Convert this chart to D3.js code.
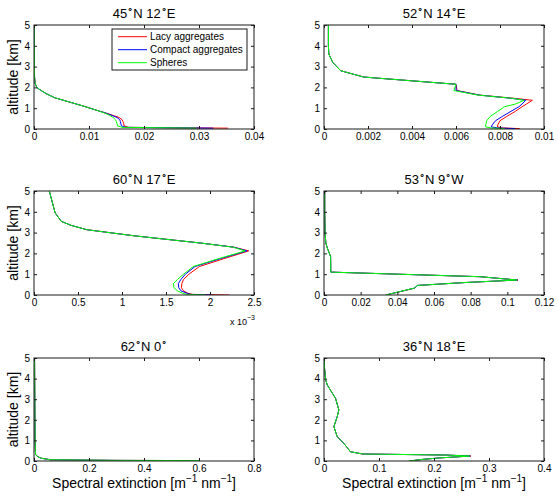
<!DOCTYPE html>
<html><head><meta charset="utf-8">
<script src="https://cdn.jsdelivr.net/npm/d3@7"></script>
<style>body{margin:0;background:#fff} text{font-family:"Liberation Sans",Arial,sans-serif;fill:#000}</style>
</head><body><svg id="c" width="558" height="496"></svg>
<script>
// ---------- DATA ----------
const seriesNames = ["Lacy aggregates", "Compact aggregates", "Spheres"];
const seriesColors = ["#ff0000", "#0000ff", "#00ff00"];
const altTicks = [0, 1, 2, 3, 4, 5];

// Panel 1: 45N 12E
const p1Title = ["45", "N 12", "E"];
const p1Ticks = [0, 0.01, 0.02, 0.03, 0.04];
const p1Alt = [5, 4, 3, 2.5, 2.2, 2.0, 1.9, 1.7, 1.5, 1.3, 1.1, 1.0, 0.9, 0.75, 0.65, 0.55, 0.45, 0.35, 0.25, 0.15, 0.08, 0.04];
const p1Lacy = [0.00003, 0.00005, 0.00008, 0.0001, 0.0002, 0.0005, 0.0010, 0.0022, 0.0038, 0.0064, 0.0090, 0.0102, 0.0114, 0.0133, 0.0144, 0.0155, 0.0160, 0.0162, 0.0163, 0.0164, 0.0172, 0.0353];
const p1Compact = [0.00003, 0.00005, 0.00008, 0.0001, 0.0002, 0.0005, 0.0010, 0.0022, 0.0038, 0.0064, 0.0090, 0.0102, 0.0114, 0.0132, 0.0142, 0.0151, 0.0156, 0.0157, 0.0158, 0.0159, 0.0167, 0.0326];
const p1Spheres = [0.00003, 0.00005, 0.00008, 0.0001, 0.0002, 0.0005, 0.0010, 0.0022, 0.0038, 0.0064, 0.0090, 0.0102, 0.0114, 0.0130, 0.0138, 0.0144, 0.0148, 0.0150, 0.0151, 0.0152, 0.0160, 0.0296];

// Panel 2: 52N 14E
const p2Title = ["52", "N 14", "E"];
const p2Ticks = [0, 0.002, 0.004, 0.006, 0.008, 0.01];
const p2Alt = [5, 4, 3.6, 3.2, 2.8, 2.5, 2.44, 2.15, 1.85, 1.63, 1.47, 1.38, 1.2, 1.07, 0.85, 0.6, 0.4, 0.2, 0.1, 0.05, 0.02];
const p2Lacy = [0.0002, 0.0002, 0.00022, 0.0004, 0.00076, 0.0018, 0.0025, 0.0060, 0.00605, 0.00708, 0.0087, 0.00947, 0.0092, 0.0090, 0.0087, 0.0083, 0.0080, 0.0079, 0.00788, 0.0081, 0.0089];
const p2Compact = [0.0002, 0.0002, 0.00022, 0.0004, 0.00076, 0.0018, 0.0025, 0.0060, 0.0060, 0.00705, 0.00856, 0.00917, 0.0090, 0.00886, 0.0085, 0.0081, 0.0078, 0.00765, 0.0076, 0.0079, 0.0087];
const p2Spheres = [0.0002, 0.0002, 0.00022, 0.0004, 0.00076, 0.0018, 0.0025, 0.0060, 0.0059, 0.0070, 0.0086, 0.0091, 0.0087, 0.0082, 0.0079, 0.00755, 0.0074, 0.00735, 0.00735, 0.0076, 0.0082];

// Panel 3: 60N 17E (values x 10^-3)
const p3Title = ["60", "N 17", "E"];
const p3Ticks = [0, 0.5, 1, 1.5, 2, 2.5];
const p3Alt = [5, 3.95, 3.54, 3.35, 3.14, 2.85, 2.5, 2.3, 2.12, 1.75, 1.37, 1.0, 0.75, 0.55, 0.35, 0.2, 0.08, 0.03, 0.0];
const p3Lacy = [0.174, 0.24, 0.31, 0.42, 0.6, 1.13, 1.89, 2.27, 2.44, 2.16, 1.88, 1.76, 1.70, 1.68, 1.675, 1.70, 1.75, 1.80, 2.22];
const p3Compact = [0.174, 0.24, 0.31, 0.42, 0.6, 1.13, 1.89, 2.27, 2.42, 2.12, 1.83, 1.72, 1.67, 1.64, 1.645, 1.67, 1.74, 1.78, 2.02];
const p3Spheres = [0.174, 0.24, 0.31, 0.42, 0.6, 1.13, 1.89, 2.26, 2.40, 2.10, 1.81, 1.70, 1.63, 1.585, 1.59, 1.63, 1.69, 1.735, 1.95];

// Panel 4: 53N 9W
const p4Title = ["53", "N 9", "W"];
const p4Ticks = [0, 0.02, 0.04, 0.06, 0.08, 0.1, 0.12];
const p4Alt = [5, 4, 3, 2.5, 2.26, 1.85, 1.1, 0.88, 0.72, 0.6, 0.46, 0.33, 0.0];
const p4Lacy = [0.0004, 0.0004, 0.0006, 0.001, 0.0018, 0.0036, 0.0037, 0.085, 0.1058, 0.077, 0.051, 0.0495, 0.0338];
const p4Compact = [0.0004, 0.0004, 0.0006, 0.001, 0.0018, 0.0036, 0.0037, 0.085, 0.1055, 0.077, 0.051, 0.0493, 0.0337];
const p4Spheres = [0.0004, 0.0004, 0.0006, 0.001, 0.0018, 0.0036, 0.0037, 0.085, 0.1052, 0.077, 0.051, 0.0492, 0.0336];

// Panel 5: 62N 0
const p5Title = ["62", "N 0", ""];
const p5Ticks = [0, 0.2, 0.4, 0.6, 0.8];
const p5Alt = [5, 3, 1, 0.5, 0.3, 0.2, 0.13, 0.06, 0.03, 0.02];
const p5Lacy = [0.002, 0.003, 0.004, 0.005, 0.006, 0.015, 0.028, 0.06, 0.3, 0.59];
const p5Compact = [0.002, 0.003, 0.004, 0.005, 0.006, 0.015, 0.028, 0.06, 0.3, 0.595];
const p5Spheres = [0.002, 0.003, 0.004, 0.005, 0.006, 0.015, 0.028, 0.06, 0.3, 0.6];

// Panel 6: 36N 18E
const p6Title = ["36", "N 18", "E"];
const p6Ticks = [0, 0.1, 0.2, 0.3, 0.4];
const p6Alt = [5, 4.5, 3.93, 3.69, 3.04, 2.48, 2.15, 1.67, 1.18, 0.86, 0.45, 0.34, 0.29, 0.24, 0.15, 0.08, 0.0];
const p6Lacy = [0.0, 0.001, 0.003, 0.006, 0.021, 0.027, 0.024, 0.018, 0.024, 0.036, 0.048, 0.07, 0.221, 0.267, 0.21, 0.18, 0.155];
const p6Compact = [0.0, 0.001, 0.003, 0.006, 0.021, 0.027, 0.024, 0.018, 0.024, 0.036, 0.048, 0.07, 0.221, 0.266, 0.21, 0.18, 0.155];
const p6Spheres = [0.0, 0.001, 0.003, 0.006, 0.021, 0.027, 0.024, 0.018, 0.024, 0.036, 0.048, 0.07, 0.22, 0.265, 0.21, 0.18, 0.155];

// ---------- LAYOUT ----------
const panels = [
  {title: p1Title, ticks: p1Ticks, alt: p1Alt, series: [p1Lacy, p1Compact, p1Spheres], col: 0, row: 0, legend: true},
  {title: p2Title, ticks: p2Ticks, alt: p2Alt, series: [p2Lacy, p2Compact, p2Spheres], col: 1, row: 0},
  {title: p3Title, ticks: p3Ticks, alt: p3Alt, series: [p3Lacy, p3Compact, p3Spheres], col: 0, row: 1, exp: true},
  {title: p4Title, ticks: p4Ticks, alt: p4Alt, series: [p4Lacy, p4Compact, p4Spheres], col: 1, row: 1},
  {title: p5Title, ticks: p5Ticks, alt: p5Alt, series: [p5Lacy, p5Compact, p5Spheres], col: 0, row: 2},
  {title: p6Title, ticks: p6Ticks, alt: p6Alt, series: [p6Lacy, p6Compact, p6Spheres], col: 1, row: 2}
];
const colX = [34, 324], W = 220;
const rowY = [25, 191, 358], rowH = [104, 104, 103];
const axisColor = "#1a1a1a";

const svg = d3.select("#c");
svg.append("rect").attr("width", 558).attr("height", 496).attr("fill", "#fff");

panels.forEach((p, i) => {
  const x0 = colX[p.col], y0 = rowY[p.row], H = rowH[p.row];
  const g = svg.append("g").attr("transform", `translate(${x0},${y0})`);
  const x = d3.scaleLinear().domain([p.ticks[0], p.ticks[p.ticks.length - 1]]).range([0, W]);
  const y = d3.scaleLinear().domain([0, 5]).range([H, 0]);

  g.append("clipPath").attr("id", "clip" + i).append("rect").attr("width", W).attr("height", H);

  const line = d3.line().x(d => x(d[0])).y(d => y(d[1]));
  const plot = g.append("g").attr("clip-path", `url(#clip${i})`);
  p.series.forEach((vals, k) => {
    const pts = vals.map((v, j) => [v, p.alt[j]]);
    plot.append("path").datum(pts).attr("d", line)
      .attr("fill", "none").attr("stroke", seriesColors[k]).attr("stroke-width", 1);
  });

  // axes (ticks inside, box)
  const fmt = d => String(d);
  const axB = g.append("g").attr("transform", `translate(0,${H})`)
    .call(d3.axisBottom(x).tickValues(p.ticks).tickSize(-3).tickPadding(4).tickFormat(fmt));
  const axT = g.append("g").call(d3.axisTop(x).tickValues(p.ticks).tickSize(-3).tickFormat(""));
  const axL = g.append("g").call(d3.axisLeft(y).tickValues(altTicks).tickSize(-3).tickPadding(4).tickFormat(fmt));
  const axR = g.append("g").attr("transform", `translate(${W},0)`)
    .call(d3.axisRight(y).tickValues(altTicks).tickSize(-3).tickFormat(""));
  [axB, axT, axL, axR].forEach(a => {
    a.select(".domain").remove();
    a.selectAll("line").attr("stroke", axisColor);
    a.selectAll("text").attr("font-size", 10).attr("fill", "#000")
      .attr("font-family", '"Liberation Sans",Arial,sans-serif');
  });
  g.append("rect").attr("width", W).attr("height", H).attr("fill", "none")
    .attr("stroke", axisColor).attr("stroke-width", 1);

  // title
  const t = g.append("text").attr("x", W / 2).attr("y", -7).attr("text-anchor", "middle").attr("font-size", 13);
  p.title.forEach((part, j) => {
    t.append("tspan").attr("dy", j === 0 ? 0 : 6).text(part);
    if (j < p.title.length - 1) t.append("tspan").attr("dy", -6).attr("font-size", 10).text("\u2218");
  });

  if (p.col === 0) {
    g.append("text").attr("transform", `translate(${18 - x0},${H / 2}) rotate(-90)`)
      .attr("text-anchor", "middle").attr("font-size", 14).text("altitude [km]");
  }
  if (p.row === 2) {
    const xl = g.append("text").attr("x", W / 2).attr("y", 488 - y0).attr("text-anchor", "middle").attr("font-size", 14);
    xl.append("tspan").text("Spectral extinction [m");
    xl.append("tspan").attr("dy", -6).attr("font-size", 10).text("\u22121");
    xl.append("tspan").attr("dy", 6).text(" nm");
    xl.append("tspan").attr("dy", -6).attr("font-size", 10).text("\u22121");
    xl.append("tspan").attr("dy", 6).text("]");
  }
  if (p.exp) {
    const ex = g.append("text").attr("x", W - 24).attr("y", H + 30).attr("font-size", 9);
    ex.append("tspan").text("x 10");
    ex.append("tspan").attr("dy", -5).attr("font-size", 7).text("\u22123");
  }
  if (p.legend) {
    const lg = g.append("g").attr("transform", `translate(${112 - x0},${29 - y0})`);
    lg.append("rect").attr("width", 135).attr("height", 41).attr("fill", "#fff")
      .attr("stroke", axisColor).attr("stroke-width", 1);
    seriesNames.forEach((nm, k) => {
      const yy = 7.7 + k * 13;
      lg.append("line").attr("x1", 6).attr("x2", 35).attr("y1", yy).attr("y2", yy)
        .attr("stroke", seriesColors[k]).attr("stroke-width", 1);
      lg.append("text").attr("x", 38).attr("y", yy + 3.5).attr("font-size", 10).text(nm);
    });
  }
});
</script>
</body></html>
